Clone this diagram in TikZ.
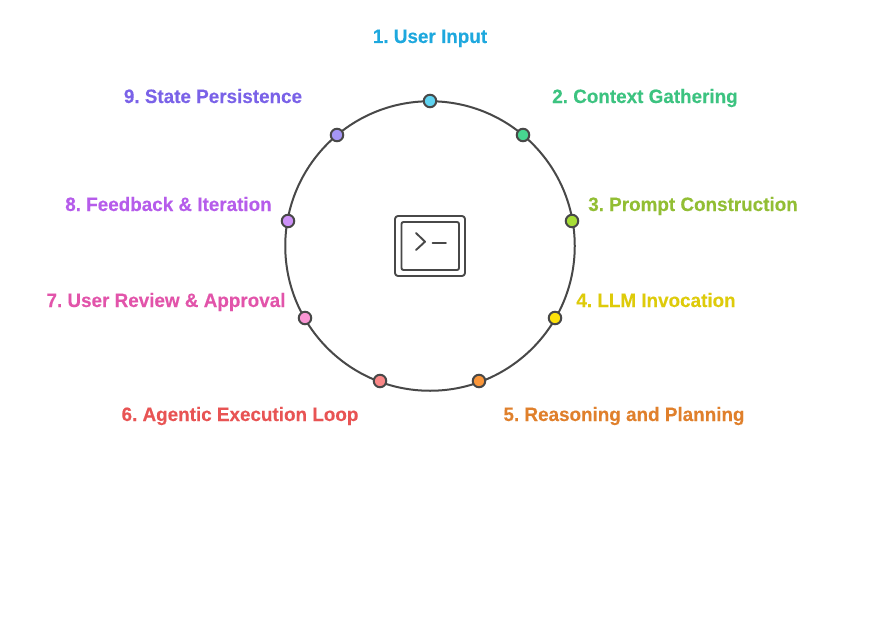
\documentclass[tikz,border=0pt]{standalone}
\usepackage{fontspec}
\setmainfont{Liberation Sans}
\newfontfamily\labfont{Liberation Sans Bold}[FakeStretch=0.972,FakeBold=0.15]
\definecolor{ink}{HTML}{484848}
\definecolor{da}{HTML}{5FD3F0}
\definecolor{db}{HTML}{47D690}
\definecolor{dc}{HTML}{A7DD36}
\definecolor{dd}{HTML}{FDE20B}
\definecolor{de}{HTML}{FA963A}
\definecolor{df}{HTML}{FA8787}
\definecolor{dg}{HTML}{FA96D4}
\definecolor{dh}{HTML}{CD91F8}
\definecolor{di}{HTML}{A596F5}
\definecolor{ta}{HTML}{1EA8DE}
\definecolor{tb}{HTML}{3CC380}
\definecolor{tc}{HTML}{92BE34}
\definecolor{td}{HTML}{DECB0A}
\definecolor{te}{HTML}{E0802C}
\definecolor{tf}{HTML}{E85454}
\definecolor{tg}{HTML}{E254AA}
\definecolor{th}{HTML}{B65CEB}
\definecolor{ti}{HTML}{7A62E8}
\tikzset{
  ringline/.style={draw=ink,line width=2pt,circle,minimum size=289.5pt,inner sep=0pt},
  dot/.style={circle,draw=ink,line width=2pt,minimum size=12.5pt,inner sep=0pt,fill=#1},
  lab/.style={text=#1,inner sep=0pt,anchor=base,font=\fontsize{19.4}{22}\selectfont\labfont\frenchspacing},
  iconline/.style={draw=ink,line width=1.9pt,line cap=round,line join=round}
}
\begin{document}
\begin{tikzpicture}[x=1pt,y=-1pt]
\useasboundingbox (0,0) rectangle (874,626);
\fill[white] (0,0) rectangle (874,626);
\node[ringline] (ring) at (430,246) {};
\node[dot=da] (d1) at (430,101) {};
\node[dot=db] (d2) at (523,135) {};
\node[dot=dc] (d3) at (572,221) {};
\node[dot=dd] (d4) at (555,318) {};
\node[dot=de] (d5) at (479,381) {};
\node[dot=df] (d6) at (380,381) {};
\node[dot=dg] (d7) at (305,318) {};
\node[dot=dh] (d8) at (288,221) {};
\node[dot=di] (d9) at (337,135) {};
\node[lab=ta] (t1) at (430,43) {1. User Input};
\node[lab=tb] (t2) at (645,103) {2. Context Gathering};
\node[lab=tc] (t3) at (693,211) {3. Prompt Construction};
\node[lab=td] (t4) at (656,307) {4. LLM Invocation};
\node[lab=te] (t5) at (624,421) {5. Reasoning and Planning};
\node[lab=tf] (t6) at (240,421) {6. Agentic Execution Loop};
\node[lab=tg] (t7) at (166,307) {7. User Review \& Approval};
\node[lab=th] (t8) at (168.5,211) {8. Feedback \& Iteration};
\node[lab=ti] (t9) at (213,103) {9. State Persistence};
\draw[iconline,rounded corners=3pt] (395,216) rectangle (465,276);
\draw[iconline,rounded corners=2pt] (401.5,222) rectangle (459,270);
\draw[iconline] (416,233) -- (425,241.7) -- (416,250);
\draw[iconline] (432.5,242.7) -- (446,242.7);
\end{tikzpicture}
\end{document}
